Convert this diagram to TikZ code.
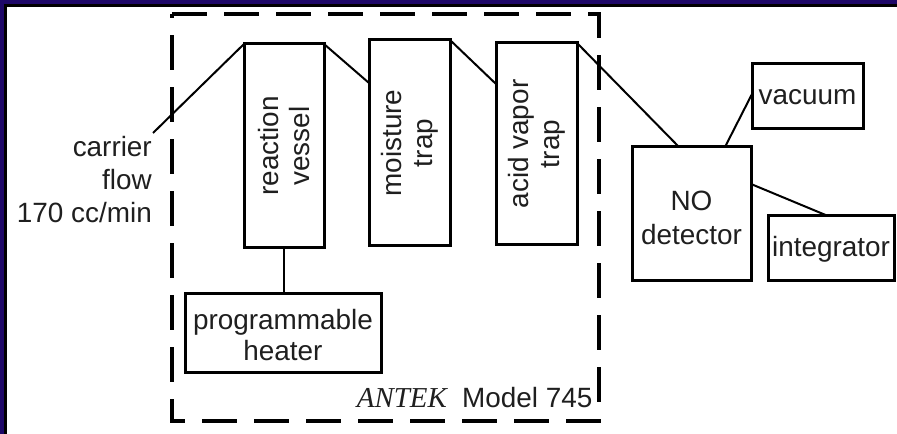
\documentclass[tikz,border=0pt]{standalone}
\usepackage{fontspec}
\setmainfont{Liberation Sans}
\newfontfamily\antekfont{Liberation Serif}
\definecolor{navy}{RGB}{30,8,104}
\begin{document}
\begin{tikzpicture}[x=1bp,y=-1bp,
  box/.style={draw=black, line width=3bp, inner sep=0pt, outer sep=0pt},
  lbl/.style={font=\fontsize{28}{31}\selectfont, align=center, inner sep=0pt, text=black!88},
  pipe/.style={draw=black, line width=2bp}]
\useasboundingbox (0,0) rectangle (897,434);
\fill[white] (0,0) rectangle (897,434);
\fill[navy] (0,0) rectangle (4.5,434);
\fill[navy] (0,0) rectangle (897,4.5);
\draw[line width=2.5bp] (5.5,434) -- (5.5,5.5) -- (897,5.5);
% dashed enclosure
\draw[line width=3.5bp, dash pattern=on 35bp off 17bp] (172,14) -- (599,14) -- (599,421) -- (172,421) -- cycle;
% boxes
\node[box, minimum width=80bp, minimum height=204bp] (rv) at (284,146) {};
\node[lbl, rotate=90] (rvt) at (rv.center) {reaction\\vessel};
\node[box, minimum width=81bp, minimum height=206bp] (mt) at (409.5,143) {};
\node[lbl, rotate=90] (mtt) at (mt.center) {moisture\\trap};
\node[box, minimum width=81bp, minimum height=202bp] (ac) at (536.5,144) {};
\node[lbl, rotate=90] (act) at (ac.center) {acid vapor\\trap};
\node[box, minimum width=119bp, minimum height=134bp] (no) at (691.5,214) {};
\node[lbl, font=\fontsize{28}{34}\selectfont] (not) at ([yshift=-4bp]no.center) {NO\\detector};
\node[box, minimum width=111bp, minimum height=65bp] (vac) at (807.5,96.5) {};
\node[lbl] (vact) at ([yshift=-1bp]vac.center) {vacuum};
\node[box, minimum width=126bp, minimum height=65bp] (int) at (831,248.5) {};
\node[lbl] (intt) at ([yshift=-1bp]int.center) {integrator};
\node[box, minimum width=196bp, minimum height=78bp] (ht) at (283,333) {};
\node[lbl] (htt) at ([yshift=-2bp]ht.center) {programmable\\heater};
% labels
\node[lbl, align=right, anchor=base east, font=\fontsize{28}{33.5}\selectfont] (carrier) at (152,223) {carrier\\flow\\170 cc/min};
\node[lbl, anchor=base east, font=\fontsize{29}{31}\antekfont\itshape] (antek) at (447,407) {ANTEK};
\node[lbl, anchor=base west] (model) at (462,407) {Model 745};
% connectors
\coordinate (cin) at (153,133);
\draw[pipe] (cin) -- (rv.north west);
\draw[pipe] (rv.north east) -- ([yshift=-43bp]mt.north west);
\draw[pipe] (mt.north east) -- ([yshift=-41bp]ac.north west);
\draw[pipe] (ac.north east) -- ([xshift=47bp]no.north west);
\draw[pipe] ([xshift=93bp]no.north west) -- ([yshift=-30bp]vac.north west);
\draw[pipe] ([yshift=-37bp]no.north east) -- ([xshift=60bp]int.north west);
\draw[pipe] (rv.south) -- (rv.south |- ht.north);
\end{tikzpicture}
\end{document}
